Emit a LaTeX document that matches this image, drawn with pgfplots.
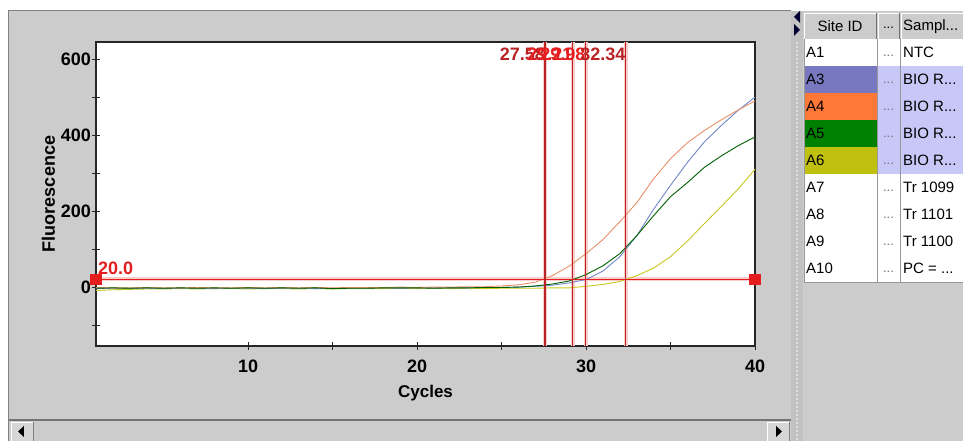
\documentclass[border=0pt]{standalone}
\usepackage{fontspec}
\setmainfont{Liberation Sans}
\usepackage{pgfplots}
\usepackage{pgfplotstable}
\pgfplotsset{compat=1.18}
\usetikzlibrary{backgrounds}

\definecolor{panel}{RGB}{204,204,204}
\definecolor{ctred}{RGB}{185,35,35}
\definecolor{thred}{RGB}{228,30,30}
\definecolor{halo}{RGB}{250,205,205}
\definecolor{cOrange}{RGB}{232,145,105}
\definecolor{cBlue}{RGB}{115,135,200}
\definecolor{cGreen}{RGB}{0,95,0}
\definecolor{cYellow}{RGB}{200,200,30}
\definecolor{selA3}{RGB}{120,120,192}
\definecolor{selA4}{RGB}{255,120,56}
\definecolor{selA5}{RGB}{0,128,0}
\definecolor{selA6}{RGB}{192,192,16}
\definecolor{lav}{RGB}{200,200,248}

% amplification curves, fluorescence per cycle
\pgfplotstableread{
c  A3  A4  A5  A6
1  -4  -1  -3  -9
2  -3  -2  -2  -7
3  -4  -2  -3  -6
4  -3  -1  -2  -5
5  -4  -2  -3  -5
6  -3  -2  -2  -4
7  -3  -1  -3  -5
8  -4  -2  -2  -4
9  -3  -2  -3  -4
10 -3  -1  -2  -5
11 -4  -2  -3  -4
12 -3  -1  -2  -4
13 -3  -2  -3  -5
14 -4  -1  -2  -4
15 -3  -2  -4  -5
16 -3  -1  -3  -4
17 -3  -1  -3  -4
18 -2  -1  -2  -4
19 -3  0   -2  -3
20 -2  -1  -2  -4
21 -2  0   -3  -3
22 -2  0   -2  -4
23 -2  1   -2  -3
24 -1  1   -1  -4
25 -1  3   -1  -3
26 0   6   0   -3
27 2   13  3   -3
28 5   30  8   -2
29 11  55  16  -2
30 20  88  33  2
31 42  125 56  7
32 80  172 88  15
33 135 222 135 30
34 205 285 188 50
35 268 338 238 80
36 328 380 275 121
37 382 412 315 167
38 425 440 345 212
39 465 466 372 258
40 500 490 395 310
}\curves

\newcommand{\fs}[1]{\fontsize{#1bp}{#1bp}\selectfont}
\newcommand{\dts}{...}

\begin{document}
\begin{tikzpicture}
\begin{axis}[
  scale only axis, width=659bp, height=304bp,
  xmin=1, xmax=40, ymin=-155, ymax=645,
  axis background/.style={fill=white},
  axis line style={line width=1.2bp, black!85},
  clip=false,
  xtick={10,15,20,25,30,35,40},
  xticklabels={10,,20,,30,,40},
  ytick={-100,0,100,200,300,400,500,600},
  yticklabels={,0,,200,,400,,600},
  xtick pos=left, ytick pos=left,
  tick align=center, major tick length=8bp,
  tick style={line width=1bp, black!85},
  /pgf/number format/assume math mode=true,
  ticklabel style={font=\bfseries\fs{18}},
  xticklabel style={anchor=north, inner sep=0pt, yshift=-10bp},
  yticklabel style={anchor=east, inner sep=0pt, xshift=-1bp},
  xlabel={Cycles}, ylabel={Fluorescence},
  xlabel style={font=\bfseries\fs{17}, at={(axis description cs:0.5,-0.155)}, anchor=center},
  ylabel style={font=\bfseries\fs{18}, at={(axis description cs:-0.072,0.5)}, anchor=center},
]
% pale halos behind the threshold and Ct lines
\addplot[color=halo, line width=4bp] coordinates {(1,20) (40,20)};
\addplot[color=halo, line width=4bp] coordinates {(27.58,-155) (27.58,645)};
\addplot[color=halo, line width=4bp] coordinates {(29.21,-155) (29.21,645)};
\addplot[color=halo, line width=4bp] coordinates {(29.98,-155) (29.98,645)};
\addplot[color=halo, line width=4bp] coordinates {(32.34,-155) (32.34,645)};

\addplot[cYellow, line width=0.9bp] table[x=c, y=A6] {\curves};
\addplot[cBlue, line width=0.9bp] table[x=c, y=A3] {\curves};
\addplot[cOrange, line width=0.9bp] table[x=c, y=A4] {\curves};
\addplot[cGreen, line width=0.9bp] table[x=c, y=A5] {\curves};

% threshold
\addplot[color=thred, line width=1.6bp, mark=square*, mark size=5bp,
  mark options={fill=thred, draw=thred}] coordinates {(1,20) (40,20)};
\node[anchor=south west, inner sep=0, text=thred, font=\bfseries\fs{18}]
  at (axis cs:1,20) [xshift=2bp, yshift=5bp] {20.0};

% Ct lines
\addplot[color=ctred, line width=1.6bp] coordinates {(27.58,-155) (27.58,645)};
\addplot[color=ctred, line width=1.6bp] coordinates {(29.21,-155) (29.21,645)};
\addplot[color=ctred, line width=1.6bp] coordinates {(29.98,-155) (29.98,645)};
\addplot[color=ctred, line width=1.6bp] coordinates {(32.34,-155) (32.34,645)};
\node[anchor=north east, inner sep=0, text=ctred, font=\bfseries\fs{18}] at (axis cs:27.58,645) [yshift=-6bp] {27.58};
\node[anchor=north east, inner sep=0, text=thred, font=\bfseries\fs{18}] at (axis cs:29.21,645) [yshift=-6bp] {29.21};
\node[anchor=north east, inner sep=0, text=thred, font=\bfseries\fs{18}] at (axis cs:29.98,645) [yshift=-6bp] {29.98};
\node[anchor=north east, inner sep=0, text=ctred, font=\bfseries\fs{18}] at (axis cs:32.34,645) [yshift=-6bp] {32.34};
\coordinate (O) at (rel axis cs:0,0);
\end{axis}

\begin{scope}[on background layer, shift={(O)}, x=1bp, y=1bp, xshift=-96bp, yshift=-95bp]
\fill[white] (0,0) rectangle (963,441);
% chart panel
\fill[panel] (9,0) rectangle (791,430);
\draw[line width=1bp, black!50] (9,0) -- (9,430) -- (791,430);
\draw[line width=1.5bp, black!55] (9,21) -- (791,21);
% scroll buttons
\fill[panel!80!white] (11,0) rectangle (33,19);
\draw[white] (11,0) -- (11,19) -- (33,19);
\draw[black!50] (33,19) -- (33,0);
\fill[black] (18,9.5) -- (24,15) -- (24,4) -- cycle;
\fill[panel!80!white] (767,0) rectangle (789,19);
\draw[white] (767,0) -- (767,19) -- (789,19);
\draw[black!50] (789,19) -- (789,0);
\fill[black] (782,9.5) -- (776,15) -- (776,4) -- cycle;
% splitter
\fill[panel!95!black] (791,0) rectangle (803,430);
\foreach \yy in {2,6,...,398} \fill[white] (797,\yy) circle (0.8);
\fill[black!80!blue] (794,424) -- (800,430) -- (800,418) -- cycle;
\fill[black!80!blue] (800,411) -- (794,417) -- (794,405) -- cycle;
% right panel and table
\fill[panel] (803,0) rectangle (963,430);
\begin{scope}
\clip (803,0) rectangle (963,441);
\draw[white] (804,402) -- (804,428) -- (876,428);
\draw[black!55] (876,428) -- (876,402) -- (804,402);
\draw[white] (878,402) -- (878,428) -- (899,428);
\draw[black!55] (899,428) -- (899,402) -- (878,402);
\draw[white] (901,402) -- (901,428) -- (963,428);
\draw[black!55] (901,402) -- (963,402);
\node[anchor=center, font=\fs{15}] at (840,414.5) {Site ID};
\node[anchor=center, font=\fs{13}] at (888.5,413) {\dts};
\node[anchor=west, inner sep=0, font=\fs{15}] at (903,414.5) {Sampl\dts};
\def\rowh{27}
\foreach \i/\id/\smp/\ca/\cb in {0/A1/NTC/white/white,
  1/A3/{BIO R\dts}/selA3/lav, 2/A4/{BIO R\dts}/selA4/lav, 3/A5/{BIO R\dts}/selA5/lav,
  4/A6/{BIO R\dts}/selA6/lav, 5/A7/Tr 1099/white/white, 6/A8/Tr 1101/white/white,
  7/A9/Tr 1100/white/white, 8/A10/{PC = \dts}/white/white} {
  \pgfmathsetmacro{\yt}{402-\i*\rowh}
  \pgfmathsetmacro{\yb}{\yt-\rowh}
  \fill[\ca] (804,\yb) rectangle (877,\yt);
  \fill[\cb] (877,\yb) rectangle (963,\yt);
  \draw[black!40] (804,\yb) -- (963,\yb);
  \draw[black!40] (877,\yb) -- (877,\yt);
  \draw[black!40] (900,\yb) -- (900,\yt);
  \node[anchor=west, inner sep=0, font=\fs{15}] at (806,\yb+13.5) {\id};
  \node[anchor=center, inner sep=0, font=\fs{13}, text=black!55] at (888.5,\yb+10) {\dts};
  \node[anchor=west, inner sep=0, font=\fs{15}] at (903,\yb+13.5) {\smp};
}
\draw[black!40] (804,402) -- (804,159);
\end{scope}
\end{scope}
\pgfresetboundingbox
\path[use as bounding box, shift={(O)}, x=1bp, y=1bp, xshift=-96bp, yshift=-95bp] (0,0) rectangle (963,441);
\end{tikzpicture}
\end{document}
